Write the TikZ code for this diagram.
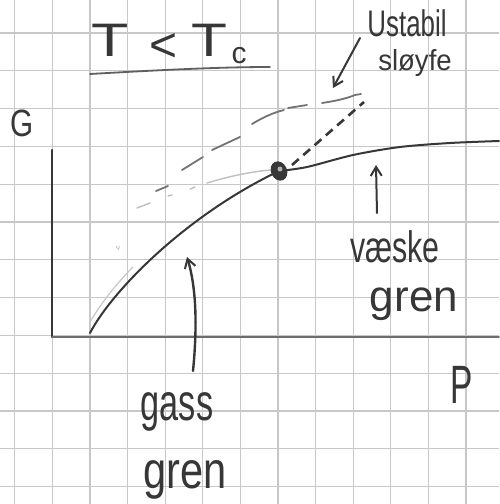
\documentclass[tikz,border=0pt]{standalone}
\usepackage{fontspec}
\setmainfont{Liberation Sans}
\usetikzlibrary{arrows.meta}
\definecolor{ink}{RGB}{55,55,55}
\definecolor{gridc}{RGB}{200,200,200}
\begin{document}
\begin{tikzpicture}[x=1pt,y=-1pt,
  gridline/.style={draw=gridc,line width=1.1pt},
  inkline/.style={draw=ink,line width=2pt,line cap=round},
  hand/.style={text=ink,inner sep=0pt,anchor=base},
  big/.style={font=\fontsize{52}{52}\selectfont},
  mid/.style={font=\fontsize{44}{44}\selectfont},
  handarrow/.style={inkline,-{Straight Barb[length=9pt,width=11pt,line width=2pt]}},
  darkdash/.style={draw=ink,line width=2.6pt,dash pattern=on 9pt off 6pt},
  lightdash/.style={draw=gray!50,line width=1.4pt,line cap=round},
  middash/.style={draw=gray!90!black,line width=1.8pt,line cap=round}]
\useasboundingbox (0,0) rectangle (499,504);
\fill[white] (0,0) rectangle (499,504);
% grid
\foreach \k in {0,...,13}{
  \draw[gridline] ({14.8+37.6*\k},0) -- ({14.8+37.6*\k},504);
  \draw[gridline] (0,{-4.8+37.8*\k}) -- (499,{-4.8+37.8*\k});
}
% title
\node[hand,font=\fontsize{47}{47}\selectfont,xscale=1.3] (t1) at (110,56) {T};
\node[hand,font=\fontsize{48}{48}\selectfont] (lt) at (164,61) {<};
\node[hand,font=\fontsize{47}{47}\selectfont,xscale=1.25] (t2) at (209,56) {T};
\node[hand,font=\fontsize{30}{30}\selectfont] (c) at (239,63) {c};
\draw[inkline,line width=1.8pt,draw=ink!80] (90,74) .. controls (160,70) and (220,67) .. (270,67);
% axes labels
\node[hand,font=\fontsize{38}{38}\selectfont,xscale=0.78] (G) at (22,136) {G};
\node[hand,font=\fontsize{54}{54}\selectfont,xscale=0.62] (P) at (462,403) {P};
% axes
\coordinate (O) at (52,337);
\coordinate (ytop) at (52,150);
\coordinate (xend) at (499,337);
\draw[inkline,line width=2.2pt] (ytop) -- (O);
\draw[inkline,draw=gray!85!black,line width=1.8pt] (O) -- (xend);
% faint trace
\draw[draw=gray!45,line width=1.2pt] (90,322) .. controls (100,305) and (115,285) .. (133,267);
\node[font=\fontsize{8}{8}\selectfont,text=gray!60] (mark) at (118,248) {\textit{ч}};
% light dashed metastable branch
\draw[lightdash] (137,208) -- (150,203);
\draw[lightdash] (168,196) -- (172,195);
\draw[lightdash] (190,189) -- (195,187);
\draw[lightdash] (207,183) .. controls (230,176) and (250,172) .. (270,170);
% unstable loop, hand dashes
\draw[middash] (156,191) -- (168,186);
\draw[middash] (182,170) -- (203,157);
\draw[middash] (212,150) -- (240,137);
\draw[middash] (252,124) .. controls (262,118) and (272,113) .. (284,110);
\draw[middash] (288,108) -- (307,105);
\draw[middash] (322,103) .. controls (335,101) and (345,99) .. (355,95) -- (361,94);
% dark dashed continuation of gas branch
\draw[darkdash] (292,165) -- (364,102);
% gas branch
\coordinate (dot) at (279,171);
\draw[inkline] (90,333) .. controls (112,291) and (185,216) .. (dot);
% liquid branch
\draw[inkline] plot[smooth] coordinates {(279,171) (307,167) (353,155) (400,147) (450,143) (499,141)};
% dot
\fill[ink,rotate around={25:(dot)}] (dot) ellipse (8pt and 10pt);
\fill[gray!60] (280,169) circle (2.5pt);
% labels and arrows
\node[hand,font=\fontsize{37}{37}\selectfont,xscale=0.7] (ustabil) at (407,36) {Ustabil};
\node[hand,font=\fontsize{29}{29}\selectfont,xscale=0.95] (sloyfe) at (415,70.5) {sløyfe};
\coordinate (utail) at (360,38);
\coordinate (utip) at (333,88);
\draw[handarrow] (utail) -- (utip);
\node[hand,mid,xscale=0.69] (vaeske) at (395,262) {væske};
\node[hand,mid,xscale=1.0] (vgren) at (414,311.5) {gren};
\coordinate (vtail) at (377,213);
\coordinate (vtip) at (376,165);
\draw[handarrow] (vtail) -- (vtip);
\node[hand,big,xscale=0.66] (gass) at (177,420) {gass};
\node[hand,big,xscale=0.8] (ggren) at (185,488) {gren};
\coordinate (gtail) at (193,371);
\coordinate (gtip) at (187,257);
\draw[handarrow,line width=2.4pt] (gtail) .. controls (197,330) and (197,290) .. (gtip);
\end{tikzpicture}
\end{document}
